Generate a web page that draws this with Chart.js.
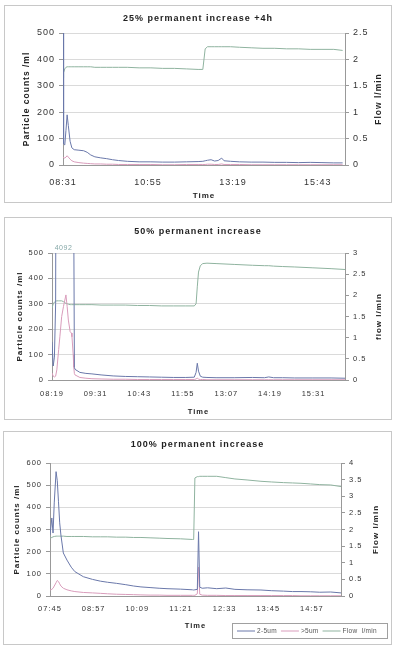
<!DOCTYPE html>
<html><head><meta charset="utf-8">
<script src="https://cdn.jsdelivr.net/npm/chart.js@4.4.1/dist/chart.umd.min.js"></script>
<style>
html,body{margin:0;padding:0;background:#fff;}
body{width:397px;height:648px;position:relative;overflow:hidden;}
.panel{position:absolute;border:1px solid #c8c8c8;box-sizing:border-box;}
canvas{position:absolute;display:block;}
</style></head><body>
<div class="panel" style="left:4px;top:5px;width:388px;height:198px"></div>
<div class="panel" style="left:4px;top:217px;width:388px;height:203px"></div>
<div class="panel" style="left:3px;top:431px;width:389px;height:214px"></div>
<canvas id="c1" width="388" height="198" style="left:4px;top:5px"></canvas>
<canvas id="c2" width="388" height="203" style="left:4px;top:217px"></canvas>
<canvas id="c3" width="389" height="214" style="left:3px;top:431px"></canvas>
<script>
// ---------- Chart 1: 25% permanent increase +4h ----------
const c1Times = ['08:31','08:32','08:34','08:36','08:38','08:40','08:43','08:46','08:50','08:58','09:06','09:12','09:18','09:25','09:35','09:45','09:55','10:05','10:20','10:40','11:00','11:20','11:40','12:00','12:20','12:28','12:32','12:36','12:42','12:48','12:54','13:00','13:04','13:15','13:30','13:50','14:10','14:30','14:50','15:10','15:30','15:50','16:10','16:25'];
const c1Small = [4000,80,76,130,190,150,90,65,58,56,54,48,38,31,27,24,20,17,14,12,12,11,11,12,13,14,16,18,20,15,17,26,16,14,12,11,11,10,10,9,10,9,8,8];
const c1Large = [30,28,26,30,35,30,22,16,12,9,7,6,5,4,4,3,3,2,2,2,2,1,1,2,2,2,2,3,3,2,2,4,2,2,2,1,1,1,1,1,1,1,1,1];
const c1Flow  = [1.65,1.75,1.82,1.85,1.86,1.86,1.86,1.86,1.86,1.86,1.86,1.86,1.86,1.85,1.85,1.85,1.85,1.85,1.85,1.84,1.84,1.83,1.83,1.82,1.81,1.81,2.20,2.24,2.24,2.24,2.24,2.24,2.24,2.24,2.23,2.22,2.21,2.21,2.20,2.20,2.19,2.19,2.19,2.17];
const c1XTicks = ['08:31','10:55','13:19','15:43'];

// ---------- Chart 2: 50% permanent increase ----------
const c2Times = ['08:19','08:21','08:23','08:25','08:27','08:30','08:32','08:35','08:38','08:42','08:44','08:46','08:49','08:51','08:52','08:54','08:55','08:56','08:57','09:05','09:15','09:25','09:40','10:00','10:20','10:40','11:00','11:20','11:40','12:00','12:14','12:17','12:19','12:21','12:24','12:28','12:35','12:50','13:20','13:50','14:10','14:17','14:25','14:40','15:00','15:30','16:00','16:23'];
const c2Small = [150,55,90,300,2500,3300,3800,4000,4092,3900,3700,3400,3000,2600,2300,1500,600,50,42,30,26,24,20,16,14,13,12,11,10,10,11,30,66,35,15,11,10,9,9,10,9,12,9,9,8,8,8,7];
const c2Large = [28,15,12,15,40,120,170,250,290,335,290,236,190,185,170,100,50,25,20,10,7,5,4,3,3,2,2,2,2,2,2,4,8,3,2,2,1,1,1,1,1,1,1,1,1,1,1,1];
const c2Flow  = [1.70,1.80,1.84,1.86,1.87,1.87,1.87,1.87,1.85,1.81,1.80,1.79,1.78,1.78,1.78,1.78,1.78,1.78,1.78,1.78,1.78,1.78,1.77,1.77,1.77,1.76,1.76,1.75,1.75,1.75,1.75,1.80,2.20,2.55,2.70,2.75,2.76,2.75,2.73,2.71,2.70,2.70,2.69,2.68,2.67,2.65,2.63,2.61];
const c2XTicks = ['08:19','09:31','10:43','11:55','13:07','14:19','15:31'];

// ---------- Chart 3: 100% permanent increase ----------
const c3Times = ['07:45','07:48','07:50','07:52','07:55','07:57','07:59','08:01','08:03','08:07','08:13','08:20','08:26','08:40','08:55','09:08','09:20','09:35','09:50','10:03','10:15','10:30','10:45','10:58','11:20','11:40','11:42','11:44','11:48','11:50','11:52','11:56','12:05','12:20','12:35','12:50','13:10','13:33','13:50','14:10','14:25','14:39','14:55','15:10','15:28','15:45'];
const c3Small = [275,352,284,420,561,520,425,330,275,194,162,130,110,87,75,67,62,57,51,45,41,38,35,33,31,28,27,28,30,290,40,35,37,33,36,30,28,27,24,22,20,20,19,17,18,14];
const c3Large = [27,30,35,45,60,70,65,55,45,35,28,23,20,16,14,12,10,8,7,6,5,4,4,3,3,3,3,3,10,130,8,4,3,3,2,2,2,2,2,2,2,1,1,1,1,1];
const c3Flow  = [1.74,1.76,1.78,1.79,1.80,1.80,1.80,1.80,1.80,1.80,1.79,1.79,1.79,1.79,1.78,1.78,1.78,1.77,1.77,1.76,1.76,1.75,1.74,1.73,1.72,1.70,1.70,3.55,3.59,3.59,3.60,3.60,3.60,3.60,3.56,3.52,3.49,3.45,3.43,3.41,3.40,3.39,3.37,3.35,3.34,3.29];
const c3XTicks = ['07:45','08:57','10:09','11:21','12:33','13:45','14:57'];

const seriesLabels = ['2-5um','>5um','Flow  l/min'];
const seriesColors = ['#6a78aa','#d99cbb','#8fb39f'];

Chart.defaults.font.family = '"Liberation Sans", Arial, sans-serif';
Chart.defaults.color = '#333';

function toMin(s){const p=s.split(':');return (+p[0])*60+(+p[1]);}
function pts(times, vals){return times.map((t,i)=>({x:toMin(t), y:vals[i]}));}

function build(id, o){
  const xt = o.xTicks.map(toMin);
  const plugins = [{
    id:'styling',
    beforeDraw(chart){
      chart.ctx.letterSpacing = '1px';
      const s = chart.scales.y1;
      s.drawTitle = function(){
        const ctx = this.ctx;
        ctx.save();
        ctx.translate(this.right - o.y1TitleOff, (this.top+this.bottom)/2);
        ctx.rotate(-Math.PI/2);
        ctx.font = 'bold '+o.axisTitleSize+'px "Liberation Sans", Arial, sans-serif';
        ctx.fillStyle = '#222';
        ctx.textAlign = 'center';
        ctx.textBaseline = 'middle';
        ctx.fillText(o.y1Title, 0, 0);
        ctx.restore();
      };
    },
    afterDraw(chart){
      const ctx = chart.ctx;
      if (o.peakLabel){
        const ds = chart.data.datasets[0].data;
        let best = ds[0];
        ds.forEach(p=>{ if(p.y>best.y) best=p; });
        const xs = chart.scales.x.getPixelForValue(best.x);
        ctx.save();
        ctx.font = '7px "Liberation Sans", Arial, sans-serif';
        ctx.letterSpacing = '0.5px';
        ctx.fillStyle = '#86a8a8';
        ctx.textAlign = 'center';
        ctx.textBaseline = 'bottom';
        ctx.fillText(String(best.y), xs, chart.chartArea.top - 1);
        ctx.restore();
      }
      if (o.legend){
        ctx.save();
        ctx.font = '6.5px "Liberation Sans", Arial, sans-serif';
        ctx.letterSpacing = '0.3px';
        const boxW = 155, boxH = 15;
        const x0 = chart.width - 5 - boxW, y0 = chart.chartArea.bottom + 27;
        ctx.strokeStyle = '#a0a0a0'; ctx.lineWidth = 1;
        ctx.strokeRect(x0+0.5, y0+0.5, boxW, boxH);
        let x = x0 + 5; const yc = y0 + boxH/2 + 0.5;
        chart.data.datasets.forEach(d=>{
          ctx.strokeStyle = d.borderColor;
          ctx.beginPath(); ctx.moveTo(x, yc); ctx.lineTo(x+18, yc); ctx.stroke();
          ctx.fillStyle = '#555'; ctx.textAlign='left'; ctx.textBaseline='middle';
          ctx.fillText(d.label, x+20, yc);
          x += 20 + ctx.measureText(d.label).width + 4;
        });
        ctx.restore();
      }
    }
  }];
  return new Chart(document.getElementById(id), {
    type:'line',
    data:{datasets:[
      {label:seriesLabels[0], data:pts(o.times,o.small), borderColor:seriesColors[0], yAxisID:'y'},
      {label:seriesLabels[1], data:pts(o.times,o.large), borderColor:seriesColors[1], yAxisID:'y'},
      {label:seriesLabels[2], data:pts(o.times,o.flow),  borderColor:seriesColors[2], yAxisID:'y1'}
    ]},
    options:{
      responsive:false, animation:false, devicePixelRatio:1,
      elements:{point:{radius:0}, line:{borderWidth:1, tension:0, fill:false}},
      layout:{padding:0},
      plugins:{
        legend:{display:false}, tooltip:{enabled:false},
        title:{display:true, text:o.title, color:'#222', font:{size:9, weight:'bold'}, padding:{top:o.titleTop, bottom:o.titleBottom}}
      },
      scales:{
        x:{type:'linear', min:toMin(o.xMin), max:toMin(o.xMax),
           afterBuildTicks:s=>{s.ticks = xt.map(v=>({value:v}));},
           ticks:{callback:(v,i)=>o.xTicks[i], font:{size:o.tickSize}, color:'#333', padding:o.xTickPad, maxRotation:0, autoSkip:false},
           grid:{display:false, drawTicks:false},
           border:{display:true, color:'#999'},
           title:{display:true, text:'Time', color:'#222', font:{size:o.axisTitleSize-0.5, weight:'bold'}, padding:{top:0, bottom:o.xTitlePad}},
           afterFit:s=>{s.height=o.bottomH;}},
        y:{position:'left', min:0, max:o.yMax,
           ticks:{stepSize:100, font:{size:o.tickSize}, color:'#333', padding:4, callback:v=>String(v)},
           grid:{color:'#dadada', tickColor:'#999', tickLength:4},
           border:{color:'#999'},
           title:{display:true, text:'Particle counts /ml', color:'#222', font:{size:o.axisTitleSize, weight:'bold'}, padding:{top:o.yTitlePad, bottom:0}},
           afterFit:s=>{s.width=o.leftW;}},
        y1:{position:'right', min:0, max:o.y1Max,
           ticks:{stepSize:0.5, font:{size:o.tickSize}, color:'#333', padding:4, callback:v=>String(v)},
           grid:{drawOnChartArea:false, tickColor:'#999', tickLength:4},
           border:{color:'#999'},
           title:{display:true, text:o.y1Title, color:'#222', font:{size:o.axisTitleSize, weight:'bold'}},
           afterFit:s=>{s.width=o.rightW;}}
      }
    },
    plugins
  });
}

build('c1', {title:'25% permanent increase +4h', times:c1Times, small:c1Small, large:c1Large, flow:c1Flow,
  xTicks:c1XTicks, xMin:'08:31', xMax:'16:29', yMax:500, y1Max:2.5, y1Title:'Flow l/min',
  leftW:59, rightW:47, bottomH:38, titleTop:8.6, titleBottom:8.6, tickSize:9, axisTitleSize:8.5,
  yTitlePad:18, y1TitleOff:13, xTickPad:12, xTitlePad:2});
build('c2', {title:'50% permanent increase', times:c2Times, small:c2Small, large:c2Large, flow:c2Flow,
  xTicks:c2XTicks, xMin:'08:19', xMax:'16:23', yMax:500, y1Max:3, y1Title:'flow l/min', peakLabel:true,
  leftW:48, rightW:47, bottomH:40, titleTop:9.6, titleBottom:15.6, tickSize:7.5, axisTitleSize:8,
  yTitlePad:11, y1TitleOff:13, xTickPad:9.5, xTitlePad:3.5});
build('c3', {title:'100% permanent increase', times:c3Times, small:c3Small, large:c3Large, flow:c3Flow,
  xTicks:c3XTicks, xMin:'07:45', xMax:'15:45', yMax:600, y1Max:4, y1Title:'Flow l/min', legend:true,
  leftW:47, rightW:51, bottomH:49, titleTop:8.6, titleBottom:12.6, tickSize:7.5, axisTitleSize:8,
  yTitlePad:9, y1TitleOff:16, xTickPad:8, xTitlePad:15});
</script>
</body></html>
